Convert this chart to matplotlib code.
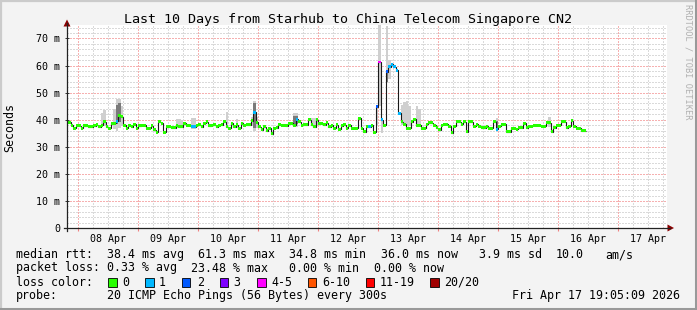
import numpy as np
import matplotlib
matplotlib.use("Agg")
import matplotlib.pyplot as plt
from matplotlib.patches import Rectangle, Polygon

# ---------------- data ----------------
# hourly median RTT in ms; first value is the hour starting Apr 7 19:00
# (hours are counted from Apr 8 00:00)
first_hour = -5
median_ms = [
    39.3, 39.0, 38.0, 36.8, 37.7, 37.7, 36.8, 37.7, 37.7, 37.4, 37.4, 37.7,
    38.2, 37.4, 38.0, 39.3, 37.4, 36.8, 38.7, 38.7, 39.5, 41.5, 41.1, 38.0,
    36.8, 38.0, 37.4, 38.3, 36.8, 37.7, 38.0, 38.0, 36.9, 36.8, 37.7, 36.2,
    35.3, 39.3, 38.7, 35.3, 37.4, 37.4, 37.1, 37.1, 37.7, 37.4, 37.4, 38.7,
    38.0, 38.0, 37.4, 37.4, 38.0, 38.2, 37.4, 38.7, 39.3, 37.7, 38.0, 38.2,
    37.4, 38.0, 38.2, 39.3, 37.4, 36.8, 38.7, 37.4, 38.2, 36.8, 38.7, 38.0,
    38.2, 38.2, 39.6, 42.7, 39.0, 37.4, 36.2, 37.4, 35.9, 36.8, 34.8, 36.8,
    37.0, 38.2, 38.0, 38.0, 37.7, 38.7, 38.7, 38.0, 40.2, 39.3, 38.0, 38.2,
    38.2, 39.9, 38.2, 37.4, 39.9, 38.7, 38.7, 38.2, 38.9, 37.4, 38.0, 36.8,
    38.2, 36.5, 37.7, 38.2, 36.8, 38.0, 36.8, 36.8, 36.8, 40.5, 36.8, 35.6,
    37.4, 37.4, 38.0, 35.3, 44.8, 61.3, 40.0, 38.0, 57.7, 59.5, 60.4, 59.5,
    58.3, 42.4, 39.3, 38.4, 36.8, 36.8, 39.2, 40.1, 38.0, 38.0, 36.8, 36.8,
    38.4, 38.8, 38.8, 38.0, 37.1, 36.2, 38.0, 38.4, 38.4, 37.6, 35.2, 37.6,
    39.2, 39.2, 38.4, 39.2, 35.6, 39.2, 39.2, 37.6, 38.4, 37.6, 37.1, 37.1,
    37.6, 36.8, 36.8, 39.2, 36.4, 37.6, 38.4, 38.4, 35.6, 35.6, 36.8, 36.8,
    36.4, 37.1, 37.1, 38.6, 37.1, 37.6, 37.6, 37.9, 37.9, 37.9, 37.6, 37.6,
    38.8, 38.8, 35.6, 37.1, 38.0, 38.0, 39.2, 39.2, 37.1, 37.6, 39.6, 37.6,
    36.8, 36.8, 35.9, 36.0,
]

# hours with packet loss (number of lost pings out of 20)
loss_hours = [15, 45, 46, 70, 87, 116, 119, 120, 121, 123, 124, 125, 126, 127, 128, 167]
loss_count = [1, 1, 1, 1, 1, 1, 2, 5, 1, 2, 1, 1, 1, 1, 1, 1]

# smoke (spread of the 20 pings) where it is visible
smoke_hours = [9, 10, 14, 15, 16, 17, 39, 40, 41, 45, 46, 59, 63, 69, 70, 71,
               86, 87, 93, 94, 95, 119, 120, 121, 123, 124, 129, 130, 131, 132,
               135, 136, 167, 188]
smoke_lo = [37.5, 37.5, 36.5, 36.0, 37.0, 37.5, 37.0, 37.0, 37.0, 36.5, 36.5, 37.0,
            37.0, 37.5, 36.0, 37.0, 37.4, 37.4, 37.5, 37.5, 37.5, 38.0, 45.0, 35.0,
            53.6, 55.0, 38.0, 38.0, 38.0, 37.5, 38.5, 38.5, 35.5, 37.4]
smoke_hi = [42.5, 43.6, 44.0, 47.5, 47.5, 45.0, 40.4, 40.4, 40.0, 40.7, 40.7, 42.9,
            40.2, 41.0, 47.0, 41.0, 42.3, 42.3, 40.5, 40.5, 40.5, 45.2, 75.0, 40.0,
            74.5, 62.0, 45.6, 46.6, 47.0, 45.0, 45.0, 44.0, 40.5, 41.1]
dense_hours = [15, 16, 70, 86, 87, 123, 167]
dense_lo = [38.5, 39.0, 37.0, 38.5, 38.5, 54.0, 36.0]
dense_hi = [45.5, 46.0, 46.0, 41.5, 41.5, 58.0, 39.5]

loss_labels = ["0", "1", "2", "3", "4-5", "6-10", "11-19", "20/20"]
loss_colors = ["#26ff00", "#00b8ff", "#0059ff", "#7e00ff", "#ff00ff",
               "#ff5500", "#ff0000", "#a00000"]
loss_upper = [0, 1, 2, 3, 5, 10, 19, 20]

day_labels = ["08 Apr", "09 Apr", "10 Apr", "11 Apr", "12 Apr",
              "13 Apr", "14 Apr", "15 Apr", "16 Apr", "17 Apr"]
y_ticks = [0, 10, 20, 30, 40, 50, 60, 70]
y_labels = ["0", "10 m", "20 m", "30 m", "40 m", "50 m", "60 m", "70 m"]

title = "Last 10 Days from Starhub to China Telecom Singapore CN2"
rtt_stats = ["38.4 ms avg", "61.3 ms max", "34.8 ms min", "36.0 ms now", "3.9 ms sd", "10.0", "am/s"]
loss_stats = ["0.33 % avg", "23.48 % max", "0.00 % min", "0.00 % now"]
probe_text = "20 ICMP Echo Pings (56 Bytes) every 300s"
stamp = "Fri Apr 17 19:05:09 2026"

# ---------------- figure ----------------
W, H = 697, 310
MONO = "DejaVu Sans Mono"
fig = plt.figure(figsize=(W / 100, H / 100), dpi=100, facecolor="#f3f3f3")

x0, x1 = 67, 667
y_zero, y_top = 228, 24.9
ax = fig.add_axes([x0 / W, 1 - y_zero / H, (x1 - x0) / W, (y_zero - y_top) / H])
ax.set_facecolor("white")
ax.set_xlim(-4.4, 235.6)
ax.set_ylim(0, 75)
for s in ax.spines.values():
    s.set_visible(False)

minor_c = "#dadada"
major_c = "#f6b0b0"
dot = (0, (1, 1))
for v in np.arange(2, 75, 2):
    ax.axhline(v, color=major_c if v % 10 == 0 else minor_c, lw=0.75, ls=dot,
               zorder=0.5, antialiased=False)
for h in np.arange(0, 236, 6):
    ax.axvline(h, color=major_c if h % 24 == 0 else minor_c, lw=0.75, ls=dot,
               zorder=0.5 if h % 24 else 0.6, antialiased=False)

# smoke
ax.bar(smoke_hours, np.array(smoke_hi) - np.array(smoke_lo), bottom=smoke_lo,
       width=1, align="edge", color="#cfcfcf", linewidth=0, zorder=1)
ax.bar(dense_hours, np.array(dense_hi) - np.array(dense_lo), bottom=dense_lo,
       width=1, align="edge", color="#7a7a7a", linewidth=0, zorder=1.1)

# median line
med = np.array(median_ms)
hours = first_hour + np.arange(len(med))
edges = np.append(hours, hours[-1] + 1)
ax.stairs(med, edges, baseline=None, color="#1a1a1a", lw=0.8, zorder=2)

# loss-coloured boxes around the median
loss = np.zeros(len(med), dtype=int)
for h, c in zip(loss_hours, loss_count):
    loss[h - first_hour] = c
bucket = [next(i for i, u in enumerate(loss_upper) if c <= u) for c in loss]
cols = [loss_colors[b] for b in bucket]
half = 0.55
ax.bar(hours, 2 * half, bottom=med - half, width=1, align="edge",
       color=cols, linewidth=0, zorder=3)

# ticks
ax.set_yticks(y_ticks, y_labels, fontfamily=MONO, fontsize=7.2)
ax.tick_params(axis="y", length=3, width=0.7, direction="inout", pad=3.6, color="#333333")
midnights = np.arange(0, 236, 24)
ax.set_xticks(midnights, [""] * len(midnights))
ax.tick_params(axis="x", which="major", length=2.5, width=0.8, color="#f08080", direction="out")
ax.set_xticks(np.arange(12, 236, 24), day_labels, minor=True, fontfamily=MONO, fontsize=7.2)
ax.tick_params(axis="x", which="minor", length=0, pad=4)

# ---------------- overlay in pixel coordinates ----------------
ov = fig.add_axes([0, 0, 1, 1], facecolor="none")
ov.set_xlim(0, W)
ov.set_ylim(H, 0)
ov.axis("off")

# frame
ov.plot([0.5, W - 0.5], [0.8, 0.8], color="#cbcbcb", lw=1.6)
ov.plot([0.8, 0.8], [0, H], color="#cbcbcb", lw=1.6)
ov.plot([0, W], [H - 1, H - 1], color="#999999", lw=2.2)
ov.plot([W - 1, W - 1], [0, H], color="#999999", lw=2.2)

# axes with arrows
ov.plot([x0, x0], [y_zero + 3, 23], color="#222222", lw=0.9)
ov.plot([x0 - 3, x1 + 3], [y_zero, y_zero], color="#222222", lw=0.9)
ov.add_patch(Polygon([[x0 - 3.5, 26.5], [x0 + 3.5, 26.5], [x0, 19.5]], closed=True,
                     color="#8b0000", lw=0))
ov.add_patch(Polygon([[x1 + 0.5, y_zero - 3.5], [x1 + 0.5, y_zero + 3.5], [x1 + 7, y_zero]],
                     closed=True, color="#8b0000", lw=0))

ov.text(348, 19.5, title, ha="center", va="center", fontfamily=MONO, fontsize=9.6)
ov.text(10, 127, "Seconds", ha="center", va="center", rotation=90, fontfamily=MONO, fontsize=8.4)
ov.text(688, 4, "RRDTOOL / TOBI OETIKER", ha="center", va="top", rotation=270,
        fontfamily=MONO, fontsize=6.2, color="#b0b0b0")

fs = 8.4
cw = 7.02          # monospace character advance in px
lx = 15.6          # legend left margin


def col(c):
    return lx + c * cw


row_y = [254.5, 268, 282, 296]
ov.text(lx, row_y[0], "median rtt:", va="center", fontfamily=MONO, fontsize=fs)
for c, t in zip([13, 26, 39, 52, 66, 77, 84], rtt_stats):
    ov.text(col(c), row_y[0], t, va="center", fontfamily=MONO, fontsize=fs)
ov.text(lx, row_y[1], "packet loss:", va="center", fontfamily=MONO, fontsize=fs)
for c, t in zip([13, 25, 39, 51], loss_stats):
    ov.text(col(c), row_y[1], t, va="center", fontfamily=MONO, fontsize=fs)
ov.text(lx, row_y[2], "loss color:", va="center", fontfamily=MONO, fontsize=fs)
box_c = [13.2, 18.5, 23.7, 29.1, 34.4, 41.6, 49.9, 59.1]
lab_c = [15.2, 20.4, 25.8, 31.0, 36.4, 43.7, 51.8, 61.1]
for bc, lc, c, lab in zip(box_c, lab_c, loss_colors, loss_labels):
    ov.add_patch(Rectangle((col(bc), row_y[2] - 4.5), 8.5, 9, facecolor=c,
                           edgecolor="black", lw=0.6))
    ov.text(col(lc), row_y[2], lab, va="center", fontfamily=MONO, fontsize=fs)
ov.text(lx, row_y[3], "probe:", va="center", fontfamily=MONO, fontsize=fs)
ov.text(col(13), row_y[3], probe_text, va="center", fontfamily=MONO, fontsize=fs)
ov.text(680.5, row_y[3], stamp, va="center", ha="right", fontfamily=MONO, fontsize=fs)

fig.savefig("out.png", dpi=100, facecolor=fig.get_facecolor())
